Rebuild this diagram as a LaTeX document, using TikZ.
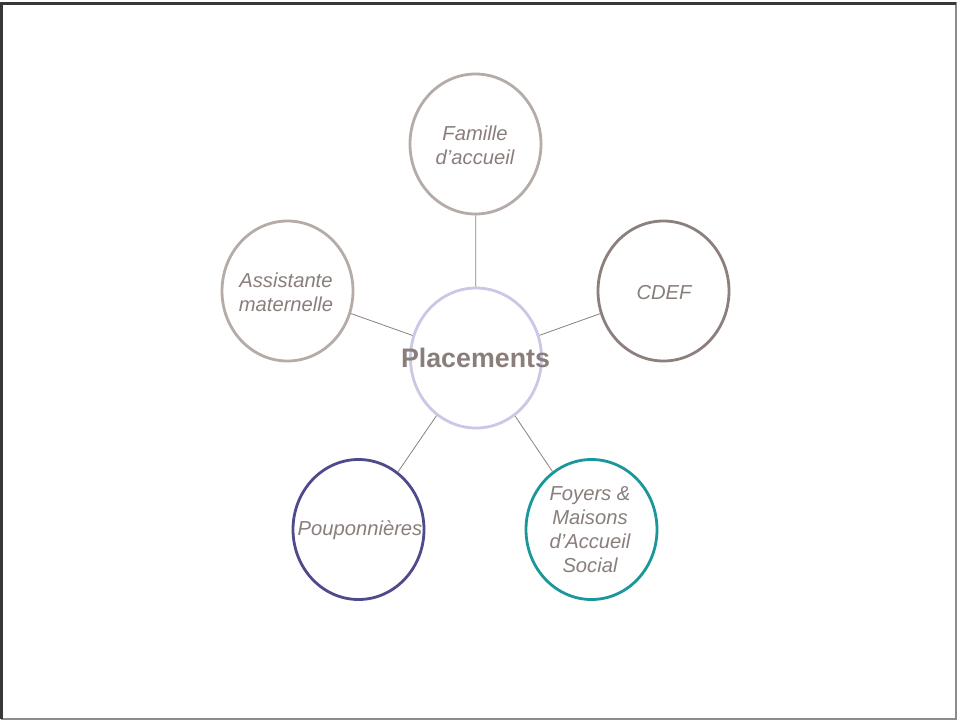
\documentclass[tikz,border=0pt]{standalone}
\usepackage{fontspec}
\setmainfont{Liberation Sans}
\usetikzlibrary{shapes.geometric}
\definecolor{txt}{HTML}{8A7E7B}
\definecolor{lightc}{HTML}{B5ACA8}
\definecolor{darkc}{HTML}{8C807D}
\definecolor{lav}{HTML}{C9C8E6}
\definecolor{purp}{HTML}{4E4A8C}
\definecolor{teal}{HTML}{1B979B}
\definecolor{linec}{HTML}{8C807D}
\tikzset{
  bubble/.style={ellipse, minimum width=131pt, minimum height=140pt, inner sep=0pt, line width=2.8pt},
  btext/.style={font=\fontsize{20.2}{24}\selectfont\itshape, text=txt, align=center},
  conn/.style={draw=linec, line width=0.8pt}
}
\begin{document}
\begin{tikzpicture}[x=1pt,y=-1pt]
\useasboundingbox (0,0) rectangle (957,720);
\fill[white] (0,0) rectangle (957,720);
\draw[draw=gray!90, line width=1.5pt] (956.2,2) -- (956.2,719.2) -- (1,719.2);
\draw[draw=black!78, line width=2.6pt] (1.3,719) -- (1.3,3.2) -- (956,3.2);
\node[bubble, draw=lav] (p) at (476,358) {};
\node[bubble, draw=lightc] (f) at (475.5,144) {};
\node[bubble, draw=darkc] (c) at (663.5,291) {};
\node[bubble, draw=lightc] (a) at (287.5,291) {};
\node[bubble, draw=purp] (po) at (358.5,529.5) {};
\node[bubble, draw=teal] (fo) at (591.5,529.5) {};
\draw[conn] (p) -- (f);
\draw[conn] (p) -- (c);
\draw[conn] (p) -- (a);
\draw[conn] (p) -- (po);
\draw[conn] (p) -- (fo);
\node[font=\fontsize{26.8}{30}\selectfont\bfseries, text=txt] (pt) at (475.5,358) {Placements};
\node[btext] (ft) at (475,145) {Famille\\d’accueil};
\node[btext] (ct) at (664,293) {CDEF};
\node[btext] (at) at (286,292) {Assistante\\maternelle};
\node[btext] (pot) at (360,530) {Pouponnières};
\node[btext] (fot) at (590,530) {Foyers \&\\ Maisons\\d’Accueil\\ Social};
\end{tikzpicture}
\end{document}
